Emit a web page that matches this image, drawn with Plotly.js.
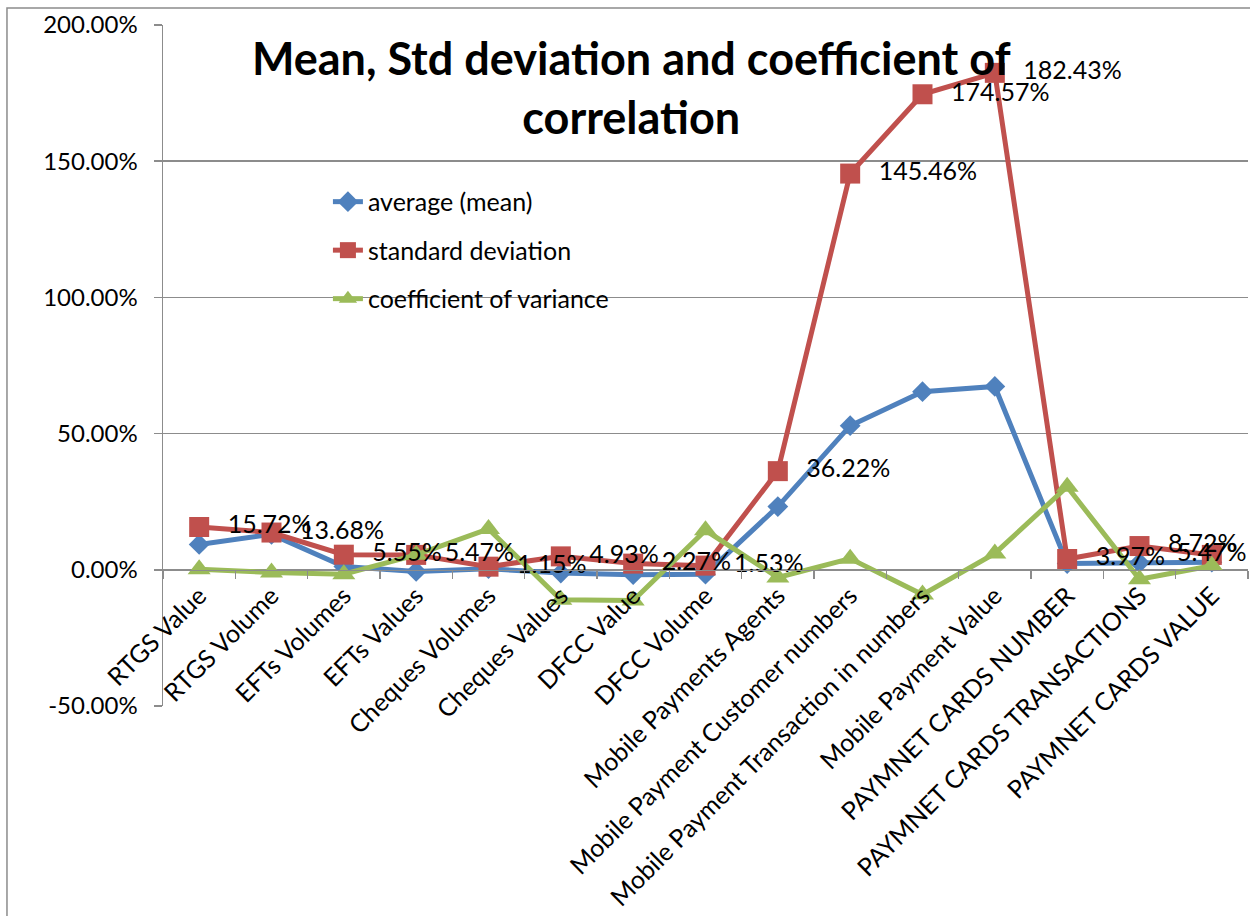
<!DOCTYPE html>
<html>
<head>
<meta charset="utf-8">
<script src="https://cdn.plot.ly/plotly-3.0.1.min.js"></script>
<style>
  html, body { margin: 0; padding: 0; background: #ffffff; }
  #chart { width: 1250px; height: 916px; }
</style>
</head>
<body>
<div id="chart"></div>
<script>
// Payment-system indicators (category axis)
const categories = [
  "RTGS Value", "RTGS Volume", "EFTs Volumes", "EFTs Values",
  "Cheques Volumes", "Cheques Values", "DFCC Value", "DFCC Volume",
  "Mobile Payments Agents", "Mobile Payment Customer numbers",
  "Mobile Payment Transaction in numbers", "Mobile Payment Value",
  "PAYMNET CARDS NUMBER", "PAYMNET CARDS TRANSACTIONS", "PAYMNET CARDS VALUE"
];

// Values in percent
const meanValues = [9.3, 13.0, 1.2, -0.6, 0.4, -1.2, -1.8, -1.6, 23.2, 52.9, 65.4, 67.3, 2.3, 2.6, 2.8];
const stdValues = [15.72, 13.68, 5.55, 5.47, 1.15, 4.93, 2.27, 1.53, 36.22, 145.46, 174.57, 182.43, 3.97, 8.72, 5.47];
const cvValues = [0.2, -1.0, -1.6, 5.5, 15.0, -11.0, -11.3, 14.5, -2.8, 4.1, -9.1, 6.0, 30.5, -3.5, 1.5];

const seriesNames = ["average (mean)", "standard deviation", "coefficient of variance"];
const yTickValues = [-50, 0, 50, 100, 150, 200];
const yTickLabels = yTickValues.map(v => v.toFixed(2) + "%");

const FONT = "Lato, 'Open Sans', sans-serif";
const GRID = "#8c8c8c";

// data labels for the standard deviation series; the last one sits over its
// marker so it stays inside the chart
const stdLabels = stdValues.map(v => v.toFixed(2) + "%");
const stdLabelPos = stdValues.map((v, i) => i === stdValues.length - 1 ? "middle center" : "middle right");

const traces = [
  {
    x: categories, y: meanValues, name: seriesNames[0], legendgroup: "a",
    type: "scatter", mode: "lines+markers",
    line: { color: "#4F81BD", width: 5 },
    marker: { symbol: "diamond", size: 16, color: "#4F81BD" },
    cliponaxis: false
  },
  {
    x: categories, y: stdValues, name: seriesNames[1], legendgroup: "b",
    type: "scatter", mode: "lines+markers",
    line: { color: "#C0504D", width: 5 },
    marker: { symbol: "square", size: 20, color: "#C0504D" },
    cliponaxis: false
  },
  {
    x: categories, y: cvValues, name: seriesNames[2], legendgroup: "c",
    type: "scatter", mode: "lines+markers",
    line: { color: "#9BBB59", width: 5 },
    marker: { symbol: "triangle-up", size: 20, color: "#9BBB59" },
    cliponaxis: false
  },
  {
    // value labels, offset from the red markers by a wide transparent marker
    x: categories, y: stdValues, name: "labels", showlegend: false,
    type: "scatter", mode: "markers+text",
    marker: { size: 44, color: "rgba(0,0,0,0)" },
    text: stdLabels, textposition: stdLabelPos,
    textfont: { family: FONT, size: 25, color: "#000000" },
    cliponaxis: false
  }
];

const layout = {
  width: 1250, height: 916,
  margin: { l: 163, r: 2, t: 25, b: 210 },
  paper_bgcolor: "#ffffff", plot_bgcolor: "#ffffff",
  font: { family: FONT, size: 25, color: "#000000" },
  title: {
    text: "<b>Mean, Std deviation and coefficient of<br>correlation</b>",
    font: { family: FONT, size: 45, color: "#000000" },
    xref: "container", yref: "container",
    x: 0.505, xanchor: "center",
    y: 0.918, yanchor: "top"
  },
  showlegend: true,
  legend: {
    x: 0.152, y: 0.774, xanchor: "left", yanchor: "top",
    bgcolor: "rgba(0,0,0,0)",
    font: { family: FONT, size: 25, color: "#000000" },
    traceorder: "grouped",
    tracegroupgap: 13
  },
  xaxis: {
    type: "category",
    range: [-0.5, 14.5], autorange: false,
    anchor: "free", position: 0.2,
    showgrid: false, zeroline: false,
    showline: true, linecolor: GRID, linewidth: 1.5,
    ticks: "outside", ticklen: 8, tickcolor: GRID, tickwidth: 1.5,
    tickson: "boundaries",
    tickangle: -45,
    tickfont: { family: FONT, size: 25, color: "#000000" },
    fixedrange: true
  },
  yaxis: {
    range: [-50, 200], autorange: false,
    tickvals: yTickValues, ticktext: yTickLabels,
    showgrid: true, gridcolor: GRID, gridwidth: 1.5,
    zeroline: false,
    showline: true, linecolor: GRID, linewidth: 1.5,
    ticks: "outside", ticklen: 8, tickcolor: GRID, tickwidth: 1.5,
    ticklabelstandoff: 11,
    tickfont: { family: FONT, size: 24, color: "#000000" },
    fixedrange: true
  },
  shapes: [
    {
      type: "rect", xref: "paper", yref: "paper",
      x0: -0.1438, x1: 1.05, y0: -0.4, y1: 1.025,
      line: { color: GRID, width: 1.5 }, fillcolor: "rgba(0,0,0,0)",
      layer: "below"
    }
  ]
};

Plotly.newPlot("chart", traces, layout, { displayModeBar: false, staticPlot: true });
</script>
</body>
</html>
